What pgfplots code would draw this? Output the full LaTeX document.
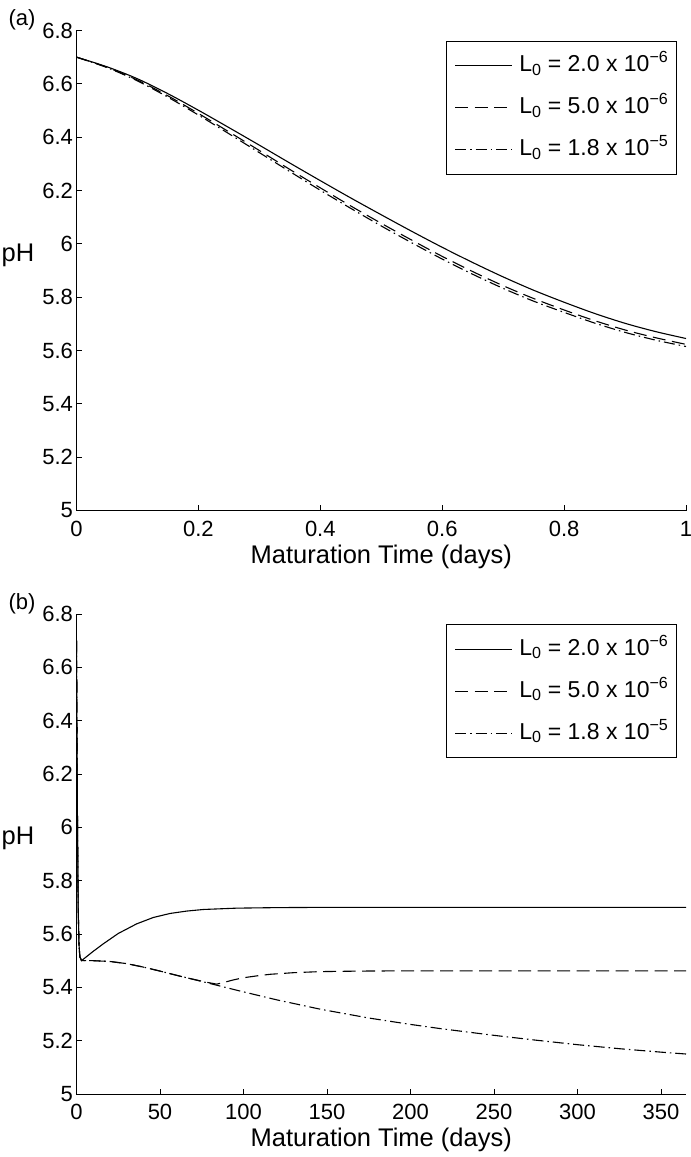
\documentclass[border=0pt]{standalone}
\usepackage{fontspec}
\setmainfont{Liberation Sans}
\usepackage{pgfplots}
\pgfplotsset{compat=1.18}

\pgfplotstableread{
t v
0 6.700
0.05 6.664
0.1 6.619
0.15 6.563
0.2 6.501
0.25 6.436
0.3 6.370
0.35 6.303
0.4 6.237
0.45 6.172
0.5 6.109
0.55 6.047
0.6 5.987
0.65 5.930
0.7 5.876
0.75 5.826
0.8 5.781
0.85 5.739
0.9 5.702
0.95 5.671
1.0 5.645
}\topA
\pgfplotstableread{
t v
0 6.700
0.05 6.662
0.1 6.614
0.15 6.555
0.2 6.489
0.25 6.420
0.3 6.350
0.35 6.279
0.4 6.210
0.45 6.142
0.5 6.077
0.55 6.014
0.6 5.953
0.65 5.896
0.7 5.843
0.75 5.795
0.8 5.752
0.85 5.712
0.9 5.677
0.95 5.648
1.0 5.623
}\topB
\pgfplotstableread{
t v
0 6.700
0.05 6.661
0.1 6.611
0.15 6.550
0.2 6.483
0.25 6.413
0.3 6.342
0.35 6.271
0.4 6.201
0.45 6.133
0.5 6.067
0.55 6.004
0.6 5.943
0.65 5.886
0.7 5.833
0.75 5.785
0.8 5.743
0.85 5.703
0.9 5.668
0.95 5.639
1.0 5.615
}\topC

\pgfplotstableread{
d v
0 6.700
0.5 6.100
1 5.700
1.5 5.560
2 5.515
3 5.500
6 5.515
10 5.535
16 5.563
25 5.602
36 5.638
46 5.662
56 5.677
66 5.686
76 5.692
96 5.697
120 5.699
150 5.700
200 5.700
365 5.700
}\botA
\pgfplotstableread{
d v
0 6.700
0.5 6.100
1 5.700
1.5 5.560
2 5.515
3 5.500
10 5.500
20 5.497
30 5.489
40 5.476
50 5.461
60 5.445
70 5.430
78 5.419
84 5.412
88 5.418
94 5.428
100 5.436
108 5.443
116 5.449
130 5.455
146 5.459
170 5.461
200 5.462
365 5.462
}\botB
\pgfplotstableread{
d v
0 6.700
0.5 6.100
1 5.700
1.5 5.560
2 5.515
3 5.500
10 5.500
20 5.497
30 5.489
40 5.476
50 5.461
60 5.445
70 5.430
84 5.408
100 5.383
120 5.353
146 5.318
175 5.285
200 5.261
217 5.246
250 5.220
275 5.202
300 5.185
325 5.170
350 5.157
365 5.150
}\botC

\pgfplotsset{
  mystyle/.style={
    scale only axis, width=609.5bp, height=480bp,
    axis x line*=bottom, axis y line*=left,
    axis line style={line width=0.9bp, black},
    tick align=inside, major tick length=5.5bp,
    every tick/.style={line width=0.8bp, black},
    ymin=5, ymax=6.8, ytick={5,5.2,5.4,5.6,5.8,6,6.2,6.4,6.6,6.8},
    /pgf/number format/assume math mode=true,
    every tick label/.append style={font=\fontsize{22bp}{26bp}\selectfont},
    xticklabel style={anchor=center, yshift=-18bp},
    every axis x label/.style={at={(axis description cs:0.5,0)}, anchor=center, yshift=-46bp, font=\fontsize{25.5bp}{30bp}\selectfont},
    legend image code/.code={\draw[##1, line width=1.1bp] (0bp,0bp) -- (57bp,0bp);},
    legend cell align=left,
    legend style={at={(0.985,0.9785)}, anchor=north east, draw=black, line width=0.9bp,
      font=\fontsize{23bp}{27bp}\selectfont, inner xsep=8bp, inner ysep=12.5bp,
      row sep=18bp, column sep=6.7bp,
      nodes={inner sep=0pt, text height=18bp, text depth=6bp}},
    solidl/.style={black, line width=1.1bp},
    dashl/.style={black, line width=1.1bp, dash pattern=on 13bp off 6.5bp},
    dotl/.style={black, line width=1.1bp, dash pattern=on 11bp off 4bp on 1.5bp off 4bp},
  }
}

\begin{document}
\begin{tikzpicture}
\useasboundingbox (-76.5bp,30.5bp) rectangle (614.5bp,-1126.5bp);

\begin{axis}[mystyle, at={(0bp,0bp)}, anchor=north west,
  xmin=0, xmax=1, xtick={0,0.2,0.4,0.6,0.8,1},
  xlabel={Maturation Time (days)}]
\addplot[solidl, smooth] table[x=t, y=v] {\topA};
\addlegendentry{L\textsubscript{0} = 2.0 x 10\textsuperscript{−6}}
\addplot[dashl, smooth] table[x=t, y=v] {\topB};
\addlegendentry{L\textsubscript{0} = 5.0 x 10\textsuperscript{−6}}
\addplot[dotl, smooth] table[x=t, y=v] {\topC};
\addlegendentry{L\textsubscript{0} = 1.8 x 10\textsuperscript{−5}}
\end{axis}

\begin{axis}[mystyle, at={(0bp,-583.5bp)}, anchor=north west,
  xmin=0, xmax=365, xtick={0,50,100,150,200,250,300,350},
  xlabel={Maturation Time (days)}]
\addplot[solidl] table[x=d, y=v] {\botA};
\addlegendentry{L\textsubscript{0} = 2.0 x 10\textsuperscript{−6}}
\addplot[dashl] table[x=d, y=v] {\botB};
\addlegendentry{L\textsubscript{0} = 5.0 x 10\textsuperscript{−6}}
\addplot[dotl] table[x=d, y=v] {\botC};
\addlegendentry{L\textsubscript{0} = 1.8 x 10\textsuperscript{−5}}
\end{axis}

\node[font=\fontsize{22bp}{26bp}\selectfont] at (-54.5bp,10.5bp) {(a)};
\node[font=\fontsize{22bp}{26bp}\selectfont] at (-54.5bp,-573bp) {(b)};
\node[font=\fontsize{25.5bp}{30bp}\selectfont] at (-58.5bp,-224.5bp) {pH};
\node[font=\fontsize{25.5bp}{30bp}\selectfont] at (-58.5bp,-808bp) {pH};
\end{tikzpicture}
\end{document}
